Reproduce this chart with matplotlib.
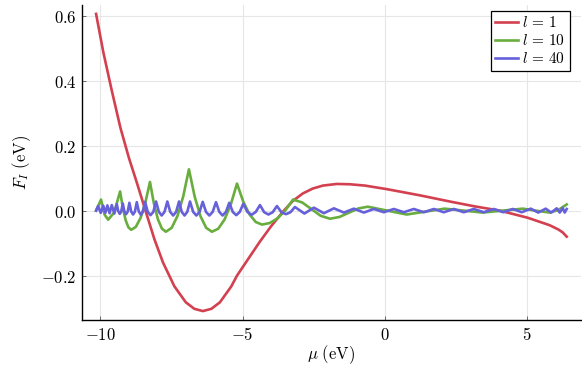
import matplotlib
matplotlib.use("Agg")
import matplotlib.pyplot as plt

plt.rcParams["mathtext.fontset"] = "cm"

# ---------------- data ----------------
mu_l1 = [-10.155, -9.9, -9.6, -9.3, -9.0, -8.7, -8.4, -8.1, -7.8, -7.4, -7.0, -6.7,
         -6.4, -6.1, -5.8, -5.4, -5.2, -4.8, -4.4, -4.0, -3.55, -3.233, -2.881,
         -2.53, -2.178, -1.687, -1.23, -0.703, 0.07, 1.23, 2.284, 3.162, 4.041,
         5.025, 5.798, 6.1, 6.254, 6.395]
F_l1 = [0.605, 0.487, 0.368, 0.255, 0.162, 0.080, -0.005, -0.089, -0.160, -0.233,
        -0.282, -0.302, -0.309, -0.302, -0.282, -0.233, -0.200, -0.148, -0.096,
        -0.048, 0.0, 0.030, 0.053, 0.068, 0.077, 0.082, 0.081, 0.077, 0.066,
        0.047, 0.028, 0.013, 0.0, -0.022, -0.045, -0.058, -0.067, -0.080]

mu_l10 = [-10.155, -9.98, -9.855, -9.73, -9.52, -9.31, -9.2125, -9.115, -9.0175, -8.92,
          -8.755, -8.59, -8.425, -8.26, -8.12, -7.98, -7.84, -7.70, -7.4975, -7.295,
          -7.0925, -6.89, -6.6875, -6.485, -6.2825, -6.08, -5.86, -5.64, -5.42, -5.20,
          -4.98, -4.76, -4.54, -4.32, -4.0475, -3.775, -3.5025, -3.23, -2.905, -2.58,
          -2.255, -1.93, -1.5975, -1.265, -0.9325, -0.60, 0.08, 0.77, 1.43, 2.1,
          2.77, 3.44, 4.15, 4.85, 5.3, 5.8, 6.1, 6.395]
F_l10 = [0.0, 0.034, -0.0125, -0.028, -0.006, 0.059, 0.0074, -0.0295, -0.0516, -0.059,
         -0.0498, -0.0223, 0.0237, 0.088, 0.0211, -0.0267, -0.0554, -0.065, -0.053, -0.017,
         0.043, 0.127, 0.043, -0.017, -0.053, -0.065, -0.0557, -0.028, 0.0183, 0.083,
         0.0279, -0.0115, -0.0351, -0.043, -0.0382, -0.0238, 0.0003, 0.034, 0.025, 0.0045,
         -0.016, -0.025, -0.0196, -0.0065, 0.0066, 0.012, 0.0, -0.012, -0.003, 0.006,
         0.0, -0.006, 0.0, 0.006, 0.0, -0.006, 0.002, 0.019]

mu_l40 = [-10.155, -10.084, -9.993, -9.902, -9.830, -9.757, -9.680, -9.603, -9.515,
          -9.427, -9.375, -9.322, -9.269, -9.216, -9.158, -9.100, -9.042,
          -8.984, -8.919, -8.854, -8.789, -8.724, -8.652, -8.579, -8.506,
          -8.433, -8.337, -8.240, -8.143, -8.046, -7.947, -7.848, -7.749,
          -7.649, -7.547, -7.444, -7.341, -7.238, -7.142, -7.045, -6.949,
          -6.852, -6.741, -6.629, -6.517, -6.405, -6.289, -6.172, -6.055,
          -5.938, -5.822, -5.705, -5.588, -5.471, -5.348, -5.225, -5.102,
          -4.979, -4.833, -4.686, -4.539, -4.392, -4.243, -4.094, -3.945,
          -3.795, -3.637, -3.479, -3.321, -3.162,
          -2.829, -2.495, -2.144, -1.792, -1.441, -1.089, -0.738, -0.387, -0.036, 0.316,
          0.668, 1.019, 1.371, 1.722, 2.073, 2.424, 2.776, 3.127, 3.479, 3.830,
          4.164, 4.498, 4.814, 5.130, 5.394, 5.657, 5.850, 6.044, 6.150, 6.254,
          6.325, 6.395]
F_l40 = [0.0, 0.014, -0.007, 0.015, -0.007, 0.016, -0.008, 0.017, -0.009,
         0.020, -0.002, -0.010, -0.002, 0.022, -0.003, -0.011, -0.003,
         0.024, -0.003, -0.012, -0.003, 0.026, -0.003, -0.013, -0.003,
         0.027, -0.004, -0.014, -0.004, 0.028, -0.004, -0.015, -0.004,
         0.028, -0.004, -0.015, -0.004, 0.028, -0.004, -0.015, -0.004,
         0.028, -0.004, -0.015, -0.004, 0.027, -0.004, -0.015, -0.004,
         0.026, -0.004, -0.015, -0.004, 0.024, -0.004, -0.014, -0.004,
         0.021, -0.004, -0.013, -0.004, 0.017, -0.005, -0.012, -0.005,
         0.014, -0.005, -0.011, -0.005, 0.011,
         -0.009, 0.009, -0.008, 0.007, -0.006, 0.006, -0.006, 0.005, -0.005, 0.005,
         -0.005, 0.005, -0.005, 0.005, -0.005, 0.005, -0.005, 0.005, -0.005, 0.005,
         -0.005, 0.005, -0.005, 0.006, -0.006, 0.006, -0.006, 0.007, -0.006, 0.008,
         -0.006, 0.005]

labels = [r"$l\,=\,1$", r"$l\,=\,10$", r"$l\,=\,40$"]
colors = ["#d3404f", "#68ad3e", "#6660da"]

xticks = [-10, -5, 0, 5]
xticklabels = ["$-10$", "$-5$", "$0$", "$5$"]
yticks = [-0.2, 0.0, 0.2, 0.4, 0.6]
yticklabels = ["$-0.2$", "$0.0$", "$0.2$", "$0.4$", "$0.6$"]

# ---------------- figure ----------------
fig = plt.figure(figsize=(5.82, 3.66), dpi=100)
ax = fig.add_axes([0.1409, 0.1257, 0.857, 0.8607])

series = [(mu_l1, F_l1), (mu_l10, F_l10), (mu_l40, F_l40)]
for (x, y), lab, c in zip(series, labels, colors):
    ax.plot(x, y, color=c, lw=1.9, label=lab, solid_joinstyle="round")

ax.set_xlim(-10.65, 6.89)
ax.set_ylim(-0.3364, 0.6324)

ax.set_xticks(xticks, labels=xticklabels)
ax.set_yticks(yticks, labels=yticklabels)
ax.tick_params(direction="in", length=3, width=0.6, color="#555555",
               labelsize=12, pad=4)
ax.grid(True, color="#e6e6e6", lw=0.8)
ax.set_axisbelow(True)

for s in ["top", "right"]:
    ax.spines[s].set_visible(False)
for s in ["left", "bottom"]:
    ax.spines[s].set_linewidth(1.0)
    ax.spines[s].set_color("black")

ax.set_xlabel(r"$\mu\ \mathrm{(eV)}$", fontsize=12, labelpad=-0.5)
ax.set_ylabel(r"$F_I\ \mathrm{(eV)}$", fontsize=12, labelpad=6)

leg = ax.legend(loc="upper right", bbox_to_anchor=(0.978, 0.982), fontsize=11,
                fancybox=False, framealpha=1, edgecolor="black",
                handlelength=1.45, handletextpad=0.3, labelspacing=0.2,
                borderpad=0.3, borderaxespad=0)
leg.get_frame().set_linewidth(0.9)

fig.savefig("out.png", dpi=100)
